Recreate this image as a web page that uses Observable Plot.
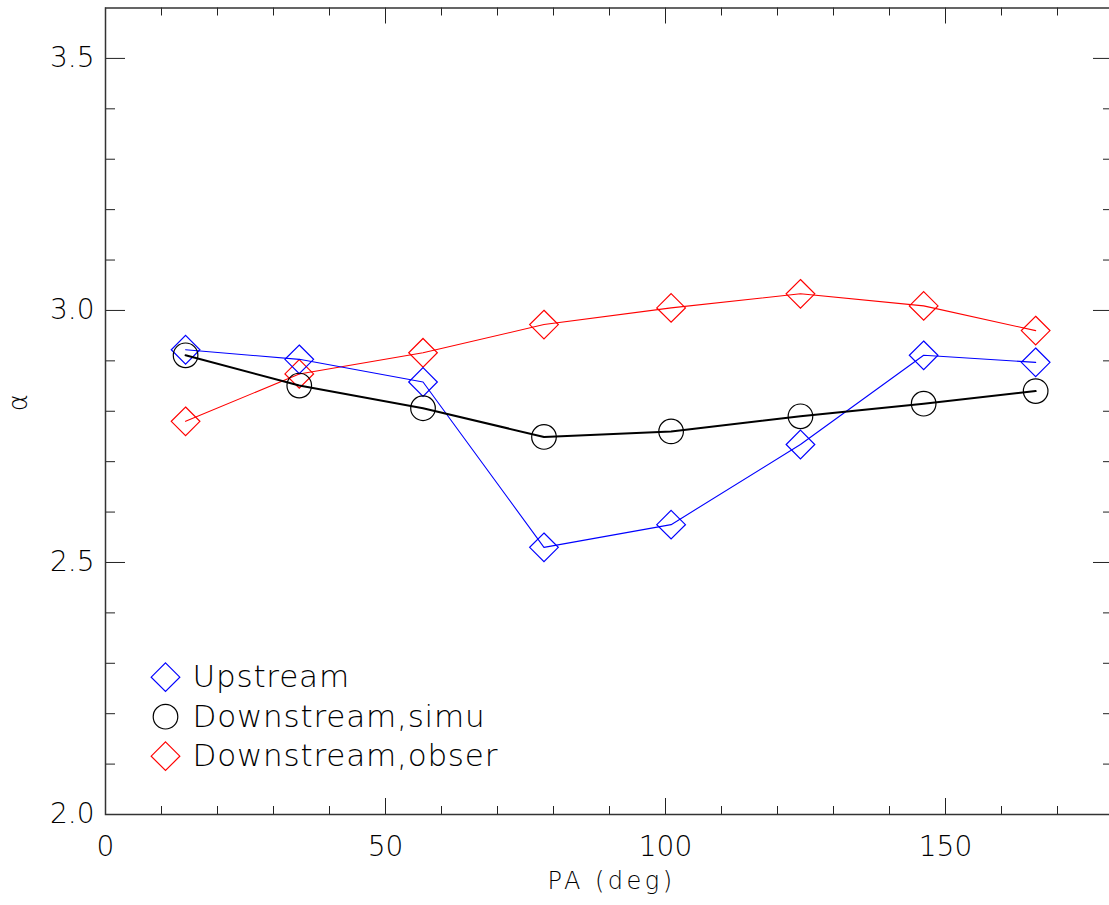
<!DOCTYPE html>
<html>
<head>
<meta charset="utf-8">
<script src="https://cdn.jsdelivr.net/npm/d3@7"></script>
<script src="https://cdn.jsdelivr.net/npm/@observablehq/plot@0.6"></script>
<style>
  html, body { margin: 0; padding: 0; background: #fff; }
  #chart svg { display: block; }
</style>
</head>
<body>
<div id="chart"></div>
<script>
// ---- data ----
const pa = [14.3, 34.6, 56.7, 78.3, 101.0, 124.1, 146.1, 166.1];
const upstream      = [2.922, 2.903, 2.858, 2.530, 2.575, 2.734, 2.911, 2.897];
const downSimu      = [2.911, 2.851, 2.806, 2.749, 2.760, 2.790, 2.815, 2.840];
const downObser     = [2.780, 2.874, 2.916, 2.972, 3.005, 3.033, 3.009, 2.960];
const seriesNames   = ["Upstream", "Downstream,simu", "Downstream,obser"];
const xTickLabels   = [0, 50, 100, 150];
const yTickLabels   = [2.0, 2.5, 3.0, 3.5];
const xMinorTicks   = [10, 20, 30, 40, 60, 70, 80, 90, 110, 120, 130, 140, 160, 170];
const yMinorTicks   = [2.1, 2.2, 2.3, 2.4, 2.6, 2.7, 2.8, 2.9, 3.1, 3.2, 3.3, 3.4];
const xTitle = "PA (deg)";
const yTitle = "α";

// ---- build tables ----
const mk = (vals) => pa.map((x, i) => ({x, y: vals[i]}));
const up = mk(upstream), ds = mk(downSimu), dob = mk(downObser);

const W = 1109, H = 905;
const mL = 105, mR = -4, mT = 7.5, mB = 91;
const fw = W - mL - mR, fh = H - mT - mB;
const font = "'DejaVu Sans', Inter, sans-serif";
const fwt = 200;

const legend = [
  {label: seriesNames[0], symbol: "diamond2", color: "#0000ff", r: 12.9},
  {label: seriesNames[1], symbol: "circle",   color: "#000000", r: 12.3},
  {label: seriesNames[2], symbol: "diamond2", color: "#ff0000", r: 12.9}
];

const legendMarks = legend.flatMap((d, i) => [
  Plot.dot([d], {frameAnchor: "bottom-left", dx: 60, dy: -137.3 + i * 39.5,
    symbol: d.symbol, r: d.r, stroke: d.color, fill: "none", strokeWidth: 1.2}),
  Plot.text([d], {frameAnchor: "bottom-left", dx: 87, dy: -137.3 + i * 39.5,
    text: "label", textAnchor: "start", lineAnchor: "middle",
    fontSize: 31, fill: "#000", fontWeight: fwt})
]);

const chart = Plot.plot({
  width: W, height: H,
  marginLeft: mL, marginRight: mR, marginTop: mT, marginBottom: mB,
  x: {domain: [0, 180]},
  y: {domain: [2.0, 3.6]},
  style: {fontFamily: font, background: "#fff", color: "#000"},
  marks: [
    Plot.axisX({ticks: xTickLabels, tickSize: 0, tickPadding: 22, label: null,
      fontSize: 28, fontWeight: fwt}),
    Plot.axisY({ticks: yTickLabels, tickSize: 0, tickPadding: 11, label: null,
      tickFormat: d3.format(".1f"), fontSize: 28, fontWeight: fwt}),
    Plot.tickY(yTickLabels, {y: d => d, insetRight: fw - 20, stroke: "#222"}),
    Plot.tickY(yTickLabels, {y: d => d, insetLeft: fw - 20, stroke: "#222"}),
    Plot.tickY(yMinorTicks, {y: d => d, insetRight: fw - 10, stroke: "#222"}),
    Plot.tickY(yMinorTicks, {y: d => d, insetLeft: fw - 10, stroke: "#222"}),
    Plot.tickX(xTickLabels, {x: d => d, insetTop: fh - 16, stroke: "#222"}),
    Plot.tickX(xTickLabels, {x: d => d, insetBottom: fh - 16, stroke: "#222"}),
    Plot.tickX(xMinorTicks, {x: d => d, insetTop: fh - 8, stroke: "#222"}),
    Plot.tickX(xMinorTicks, {x: d => d, insetBottom: fh - 8, stroke: "#222"}),
    Plot.frame({stroke: "#333", strokeWidth: 1.5}),
    Plot.line(dob, {x: "x", y: "y", stroke: "#ff0000", strokeWidth: 1.1}),
    Plot.dot(dob, {x: "x", y: "y", symbol: "diamond2", r: 12.9, stroke: "#ff0000", fill: "none", strokeWidth: 1.2}),
    Plot.line(up, {x: "x", y: "y", stroke: "#0000ff", strokeWidth: 1.1}),
    Plot.dot(up, {x: "x", y: "y", symbol: "diamond2", r: 12.9, stroke: "#0000ff", fill: "none", strokeWidth: 1.2}),
    Plot.line(ds, {x: "x", y: "y", stroke: "#000", strokeWidth: 2}),
    Plot.dot(ds, {x: "x", y: "y", symbol: "circle", r: 12.3, stroke: "#000", fill: "none", strokeWidth: 1.2}),
    Plot.text([xTitle], {frameAnchor: "bottom", dy: 67, dx: 2, text: d => d, lineAnchor: "middle",
      fontSize: 24, fontWeight: fwt}),
    Plot.text([yTitle], {frameAnchor: "left", dx: -87, text: d => d, rotate: -90, lineAnchor: "middle",
      fontSize: 26, fontWeight: fwt}),
    ...legendMarks
  ]
});
// letter spacing to mimic the wide stroke font of the original
d3.select(chart).selectAll("text")
  .filter(function() { return seriesNames.includes(this.textContent); })
  .attr("letter-spacing", "0.8px");
d3.select(chart).selectAll("text")
  .filter(function() { return this.textContent === xTitle; })
  .attr("letter-spacing", "3.5px");
document.getElementById("chart").appendChild(chart);
</script>
</body>
</html>
